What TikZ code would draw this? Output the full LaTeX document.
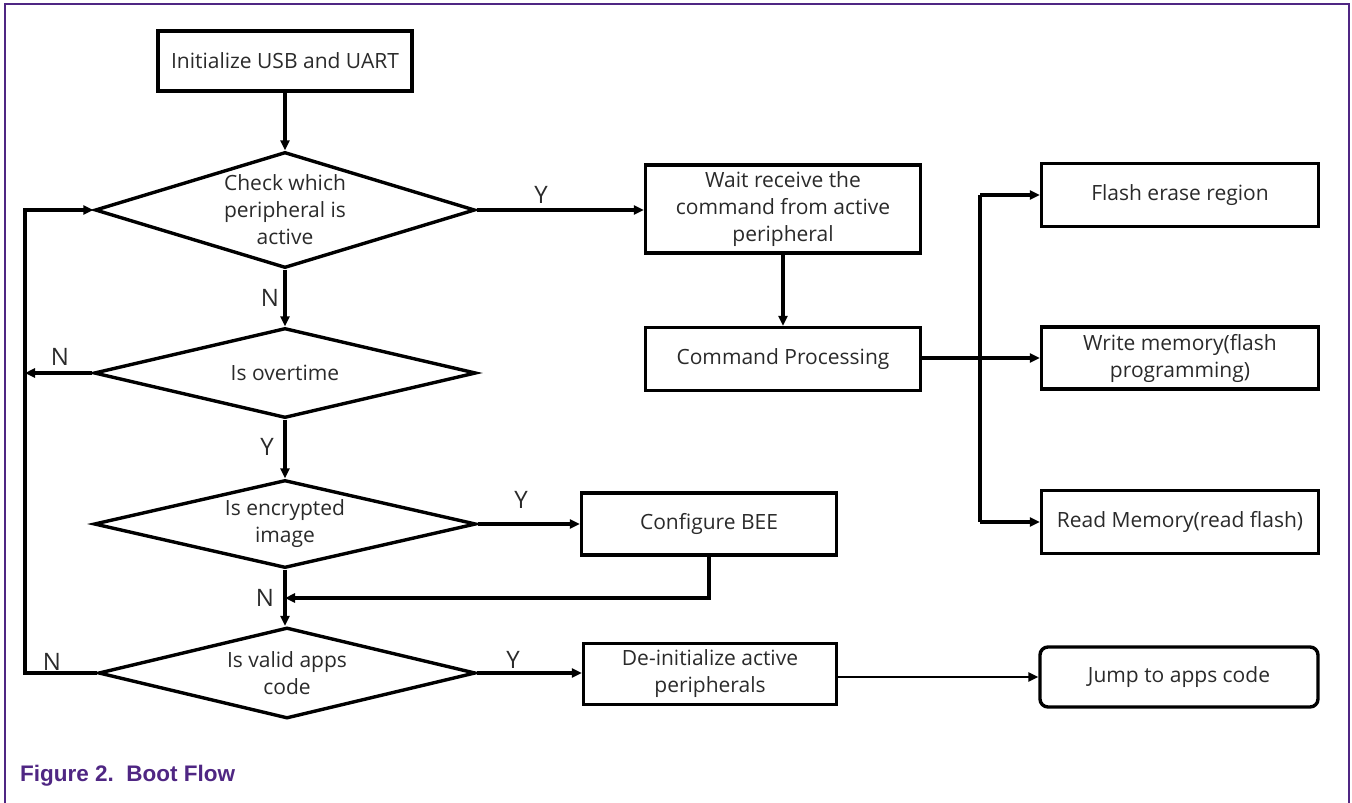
\documentclass[tikz,border=0pt]{standalone}
\usepackage{fontspec}
\setmainfont{Open Sans}
\newfontfamily\capfont{Liberation Sans}
\usetikzlibrary{shapes.geometric,arrows.meta}
\definecolor{nxppurple}{HTML}{4F2683}
\definecolor{txtgray}{HTML}{2A2A2A}
\tikzset{
  box/.style={draw=black, line width=3.4pt, rectangle, inner sep=0pt},
  dia/.style={draw=black, line width=3.4pt, diamond, inner sep=0pt},
  txt/.style={text=txtgray, font=\fontsize{21}{27}\selectfont, align=center, inner sep=0pt},
  yn/.style={text=txtgray, font=\fontsize{24}{27}\selectfont, inner sep=0pt},
  conn/.style={line width=3.2pt, -{Triangle[length=10pt,width=9pt]}},
  plain/.style={line width=3.2pt},
}
\begin{document}
\begin{tikzpicture}[x=1pt,y=-1pt]
\useasboundingbox (0,0) rectangle (1352,803);
% frame
\draw[nxppurple, line width=2.6pt] (5,803) -- (5,4) -- (1349,4) -- (1349,803);

% nodes
\node[box, minimum width=254pt, minimum height=60pt] (init) at (285,61) {};
\node[txt] at (init) {Initialize USB and UART};

\node[dia, minimum width=380pt, minimum height=116pt] (d1) at (285,210) {};
\node[txt] at (d1) {Check which\\peripheral is\\active};

\node[dia, minimum width=382pt, minimum height=90pt] (d2) at (285,373) {};
\node[txt] at (d2) {Is overtime};

\node[dia, minimum width=382pt, minimum height=88pt] (d3) at (285,524) {};
\node[txt] at (d3) {Is encrypted\\image};

\node[dia, minimum width=377pt, minimum height=91pt] (d4) at (287,673) {};
\node[txt] at (d4) {Is valid apps\\code};

\node[box, minimum width=275pt, minimum height=88pt] (wait) at (783,209) {};
\node[txt] at (wait) {Wait receive the\\command from active\\peripheral};

\node[box, minimum width=275pt, minimum height=63pt] (cmd) at (783,359) {};
\node[txt] at (cmd) {Command Processing};

\node[box, minimum width=277pt, minimum height=63pt] (erase) at (1180,195) {};
\node[txt] at (erase) {Flash erase region};

\node[box, minimum width=277pt, minimum height=62pt] (write) at (1180,358) {};
\node[txt] at (write) {Write memory(flash\\programming)};

\node[box, minimum width=277pt, minimum height=63pt] (read) at (1180,522) {};
\node[txt] at (read) {Read Memory(read flash)};

\node[box, minimum width=255pt, minimum height=62pt] (bee) at (709,524) {};
\node[txt] at (bee) {Configure BEE};

\node[box, minimum width=253pt, minimum height=61pt] (deinit) at (710,674) {};
\node[txt] at (deinit) {De-initialize active\\peripherals};

\node[box, rounded corners=8pt, minimum width=278pt, minimum height=60pt] (jump) at (1179,677) {};
\node[txt] at (jump) {Jump to apps code};

% coordinates
\coordinate (loopx) at (25,0);
\coordinate (branchx) at (980,0);
\coordinate (merge) at (d3.south |- 0,598);

% connectors
\draw[conn] (init.south) -- (d1.north);
\draw[conn] (d1.south) -- (d2.north);
\draw[conn] (d2.south) -- (d3.north);
\draw[conn] (d3.south) -- (d3.south |- d4.north);
\draw[conn] (d1.east) -- (d1.east -| wait.west);
\draw[conn] (wait.south) -- (cmd.north);
\draw[conn] (d3.east) -- (d3.east -| bee.west);
\draw[conn] (bee.south) |- (merge);
\draw[conn] (d4.east) -- (d4.east -| deinit.west);
\draw[conn, line width=2.4pt] (deinit.east |- jump.west) -- (jump.west);
\draw[conn] (cmd.east |- write.west) -- (write.west);
\draw[conn] (branchx |- erase.west) -- (erase.west);
\draw[conn] (branchx |- read.west) -- (read.west);
\draw[plain] (branchx |- erase.west) -- (branchx |- read.west);
\draw[conn] (d4.west) -- (loopx |- d4.west) -- (loopx |- d1.west) -- (d1.west);
\draw[conn] (d2.west) -- (loopx |- d2.west);

% labels
\node[yn] at (541,195) {Y};
\node[yn] at (270,298) {N};
\node[yn] at (60,357) {N};
\node[yn] at (267,447) {Y};
\node[yn] at (521,500) {Y};
\node[yn] at (265,598) {N};
\node[yn] at (52,662) {N};
\node[yn] at (513,660) {Y};

% caption
\node[anchor=base west, inner sep=0pt, text=nxppurple, font=\capfont\bfseries\fontsize{22.5}{24}\selectfont] (cap) at (20,781) {Figure 2.\ \ Boot Flow};
\end{tikzpicture}
\end{document}
